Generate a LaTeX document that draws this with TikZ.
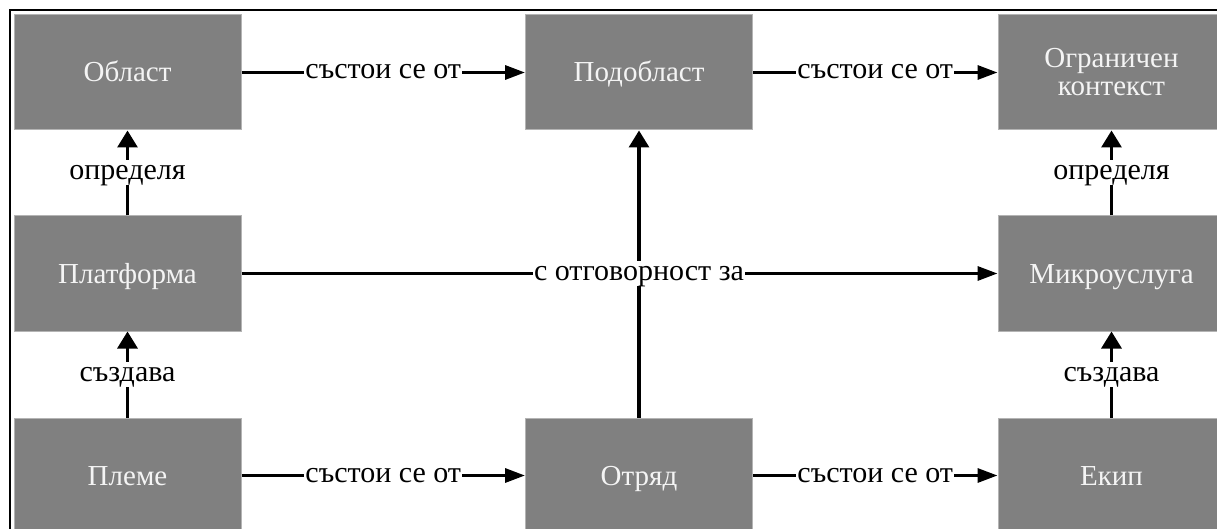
\documentclass[tikz,border=0pt]{standalone}
\usepackage{fontspec}
\setmainfont{Liberation Serif}
\usetikzlibrary{arrows.meta}
\definecolor{boxfill}{HTML}{808080}
\definecolor{boxedge}{HTML}{B4B4B4}
\definecolor{boxtext}{HTML}{F4F4F4}
\begin{document}
\begin{tikzpicture}[x=1pt,y=-1pt,
  box/.style={draw=boxedge, fill=boxfill, line width=1pt,
    minimum width=227pt, minimum height=115pt, inner sep=0pt,
    text=boxtext, align=center, font=\fontsize{29}{28}\selectfont},
  oneline/.style={text height=19pt, text depth=0pt},
  hconn/.style={line width=3.2pt, -{Triangle[length=20pt,width=14pt]}},
  vconn/.style={line width=3.2pt, -{Triangle[length=17pt,width=20pt]}},
  lbl/.style={fill=white, inner xsep=1pt, inner ysep=6pt, text=black,
    text height=13pt, text depth=0pt, font=\fontsize{30}{30}\selectfont}]
\useasboundingbox (0,0) rectangle (1217,529);
\clip (0,0) rectangle (1217,529);
% outer frame
\draw[line width=2pt] (10,540) -- (10,10) -- (1230,10);
% boxes
\node[box,oneline] (oblast)    at (127.5,72.5)  {Област};
\node[box,oneline] (podoblast) at (639,72.5)    {Подобласт};
\node[box]         (kontekst)  at (1111.5,72.5) {Ограничен\\контекст};
\node[box,oneline] (platforma) at (127.5,273.5) {Платформа};
\node[box,oneline] (mikro)     at (1111.5,273.5){Микроуслуга};
\node[box,oneline] (pleme)     at (127.5,475.5) {Племе};
\node[box,oneline] (otryad)    at (639,475.5)   {Отряд};
\node[box,oneline] (ekip)      at (1111.5,475.5){Екип};
% horizontal connectors
\draw[hconn] (oblast) -- node[lbl] {състои се от} (podoblast);
\draw[hconn] (podoblast) -- node[lbl] {състои се от} (kontekst);
\draw[hconn] (pleme) -- node[lbl] {състои се от} (otryad);
\draw[hconn] (otryad) -- node[lbl] {състои се от} (ekip);
\draw[hconn] (platforma) -- (mikro);
% vertical connectors
\draw[vconn] (otryad) -- (podoblast);
\draw[vconn] (platforma) -- node[lbl] {определя} (oblast);
\draw[vconn] (pleme) -- node[lbl] {създава} (platforma);
\draw[vconn] (mikro) -- node[lbl] {определя} (kontekst);
\draw[vconn] (ekip) -- node[lbl] {създава} (mikro);
% label where the two long connectors cross
\node[lbl] (otgovornost) at (otryad |- platforma) {с отговорност за};
\end{tikzpicture}
\end{document}
